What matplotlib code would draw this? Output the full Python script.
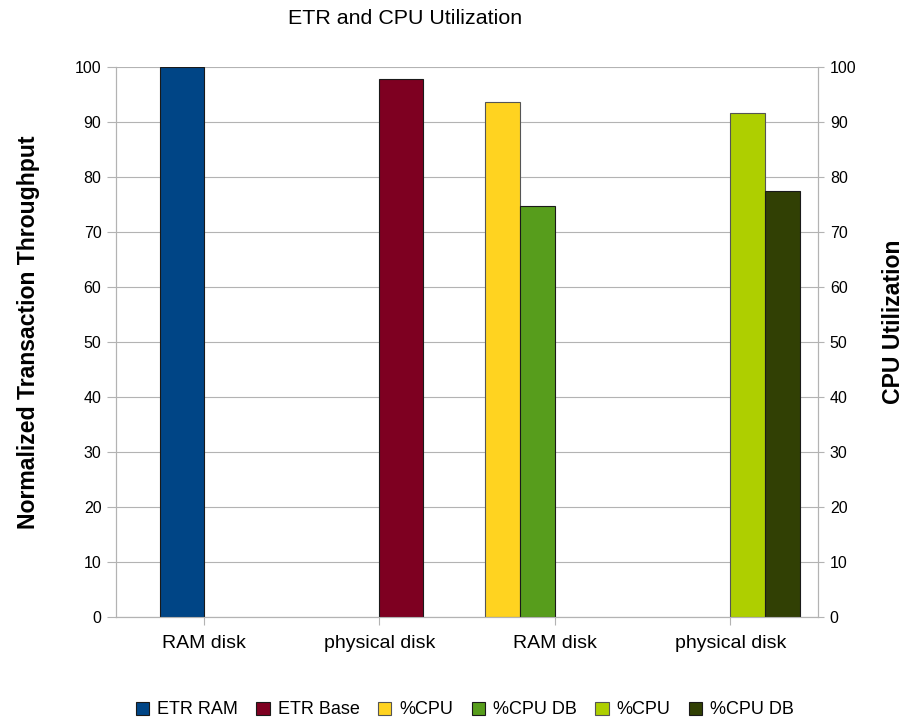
import numpy as np
import matplotlib
matplotlib.use('Agg')
import matplotlib.pyplot as plt

plt.rcParams['font.family'] = ['Liberation Sans', 'DejaVu Sans']

categories = ['RAM disk', 'physical disk', 'RAM disk', 'physical disk']
# throughput (left axis)
etr_ram = [100, np.nan, np.nan, np.nan]
etr_base = [np.nan, 97.9, np.nan, np.nan]
# cpu utilisation (right axis)
cpu_ram = [np.nan, np.nan, 93.7, np.nan]
cpu_db_ram = [np.nan, np.nan, 74.8, np.nan]
cpu_phys = [np.nan, np.nan, np.nan, 91.6]
cpu_db_phys = [np.nan, np.nan, np.nan, 77.4]

x = np.arange(len(categories))

fig = plt.figure(figsize=(9.06, 7.21), dpi=100)
ax = fig.add_axes([116/906, 1-617/721, 702/906, 550/721])
ax2 = ax.twinx()

edge = '#1a1a1a'
w1 = 0.25
ax.bar(x - w1/2, etr_ram, w1, color='#004586', edgecolor=edge, lw=0.8, label='ETR RAM', zorder=3)
ax.bar(x + w1/2, etr_base, w1, color='#7e0021', edgecolor=edge, lw=0.8, label='ETR Base', zorder=3)

w2 = 0.2
ax2.bar(x - 1.5*w2, cpu_ram, w2, color='#ffd320', edgecolor='#555555', lw=0.8, label='%CPU')
ax2.bar(x - 0.5*w2, cpu_db_ram, w2, color='#579d1c', edgecolor=edge, lw=0.8, label='%CPU DB')
ax2.bar(x + 0.5*w2, cpu_phys, w2, color='#aecf00', edgecolor='#555555', lw=0.8, label='%CPU')
ax2.bar(x + 1.5*w2, cpu_db_phys, w2, color='#314004', edgecolor=edge, lw=0.8, label='%CPU DB')

for a in (ax, ax2):
    a.set_xlim(-0.5, 3.5)
    a.set_ylim(0, 100)
    a.set_yticks(np.arange(0, 101, 10))
    for s in a.spines.values():
        s.set_color('#b3b3b3')
    a.spines['top'].set_visible(False)
    a.tick_params(axis='y', colors='#b3b3b3', labelcolor='black', labelsize=11.5, width=0.8)

ax.tick_params(axis='y', length=6.5, pad=4)
ax2.tick_params(axis='y', length=4.5, pad=4)
ax.set_xticks(x)
ax.set_xticklabels(categories, fontsize=14)
ax.tick_params(axis='x', colors='#b3b3b3', labelcolor='black', length=6, width=0.8, pad=7)
ax.yaxis.grid(True, color='#b3b3b3', lw=0.8, zorder=0)
ax.set_axisbelow(True)

fig.text(405/906, 1-19/721, 'ETR and CPU Utilization', ha='center', va='center', fontsize=15.4)
fig.text(29/906, 1-332/721, 'Normalized Transaction Throughput', rotation=90,
         ha='center', va='center', fontsize=16.6, fontweight='bold')
fig.text(894/906, 1-322/721, 'CPU Utilization', rotation=90,
         ha='center', va='center', fontsize=16.6, fontweight='bold')

h1, l1 = ax.get_legend_handles_labels()
h2, l2 = ax2.get_legend_handles_labels()
fig.legend(h1 + h2, l1 + l2, loc='center', bbox_to_anchor=(465/906, 1-710/721), ncol=6,
           frameon=False, fontsize=13, handlelength=0.75, handleheight=0.75,
           handletextpad=0.45, columnspacing=1.0)

fig.savefig('out.png', dpi=100)
